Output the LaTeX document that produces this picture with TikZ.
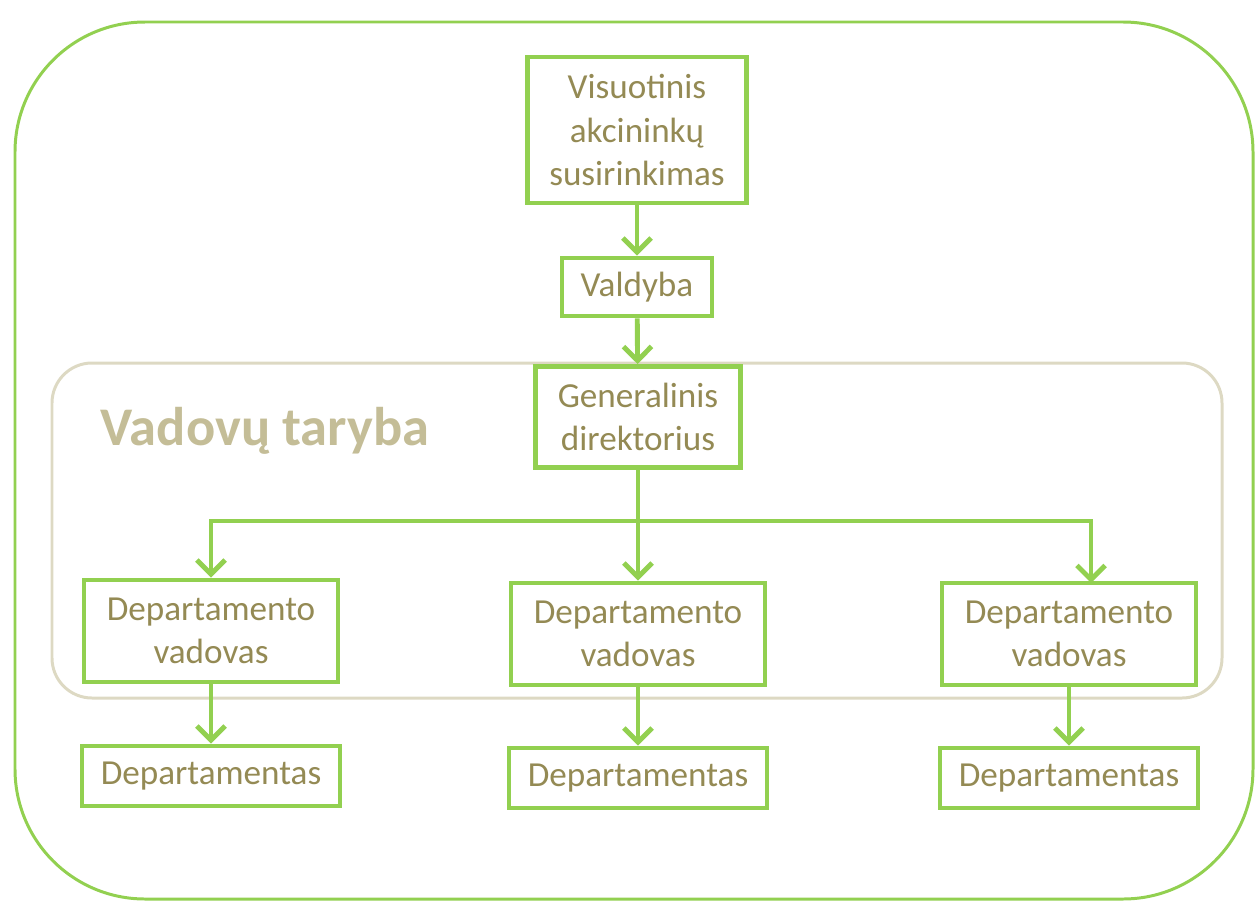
\documentclass[tikz,border=0pt]{standalone}
\usepackage{fontspec}
\setmainfont{Carlito}
\usetikzlibrary{arrows.meta}
\definecolor{boxgreen}{RGB}{146,208,80}
\definecolor{olivetext}{RGB}{148,138,84}
\definecolor{tanline}{RGB}{221,217,195}
\definecolor{tantext}{RGB}{196,189,151}
\tikzset{
  unit/.style={draw=boxgreen, line width=2.8pt, fill=white, text=olivetext,
    align=center, inner sep=0pt, font=\fontsize{20}{24.5}\selectfont},
  link/.style={draw=boxgreen, line width=2.8pt,
    -{Straight Barb[length=8pt, width=16pt]}}
}
\begin{document}
\begin{tikzpicture}[x=0.02cm, y=-0.02cm]
      \useasboundingbox (0,0) rectangle (1255,900);
      % frames
      \draw[boxgreen, line width=1.7pt, rounded corners=2.6cm] (15,22) rectangle (1253,899);
      \draw[tanline, line width=1.7pt, rounded corners=0.8cm] (52,363) rectangle (1222,698);
      \node[text=tantext, font=\fontsize{31}{36}\selectfont\bfseries] (council) at (265,431) {Vadovų taryba};
      \draw
        (637,130) node[unit, minimum width=4.38cm, minimum height=2.92cm] (meeting){Visuotinis\\akcininkų\\susirinkimas}
        (637,287) node[unit, minimum width=3.0cm, minimum height=1.16cm] (board){Valdyba}
        (638,417) node[unit, minimum width=4.1cm, minimum height=2.02cm] (ceo){Generalinis\\direktorius}
        (211,631) node[unit, minimum width=5.08cm, minimum height=2.04cm] (head1){Departamento\\vadovas}
        (638,634) node[unit, minimum width=5.08cm, minimum height=2.04cm] (head2){Departamento\\vadovas}
        (1069,634) node[unit, minimum width=5.08cm, minimum height=2.04cm] (head3){Departamento\\vadovas}
        (211,776) node[unit, minimum width=5.16cm, minimum height=1.2cm] (dept1){Departamentas}
        (638,778) node[unit, minimum width=5.16cm, minimum height=1.2cm] (dept2){Departamentas}
        (1069,778) node[unit, minimum width=5.16cm, minimum height=1.2cm] (dept3){Departamentas};
      \coordinate (fork) at (638,521);
      \coordinate (rightdrop) at (1091,583);
      \begin{scope}[link]
        \draw (meeting) to (board);
        \draw (board) to (ceo);
        \draw (ceo) to (head2);
        \draw (fork) -| (head1);
        \draw (fork) -| (rightdrop);
        \draw (head1) to (dept1);
        \draw (head2) to (dept2);
        \draw (head3) to (dept3);
      \end{scope}
    \end{tikzpicture}
\end{document}
